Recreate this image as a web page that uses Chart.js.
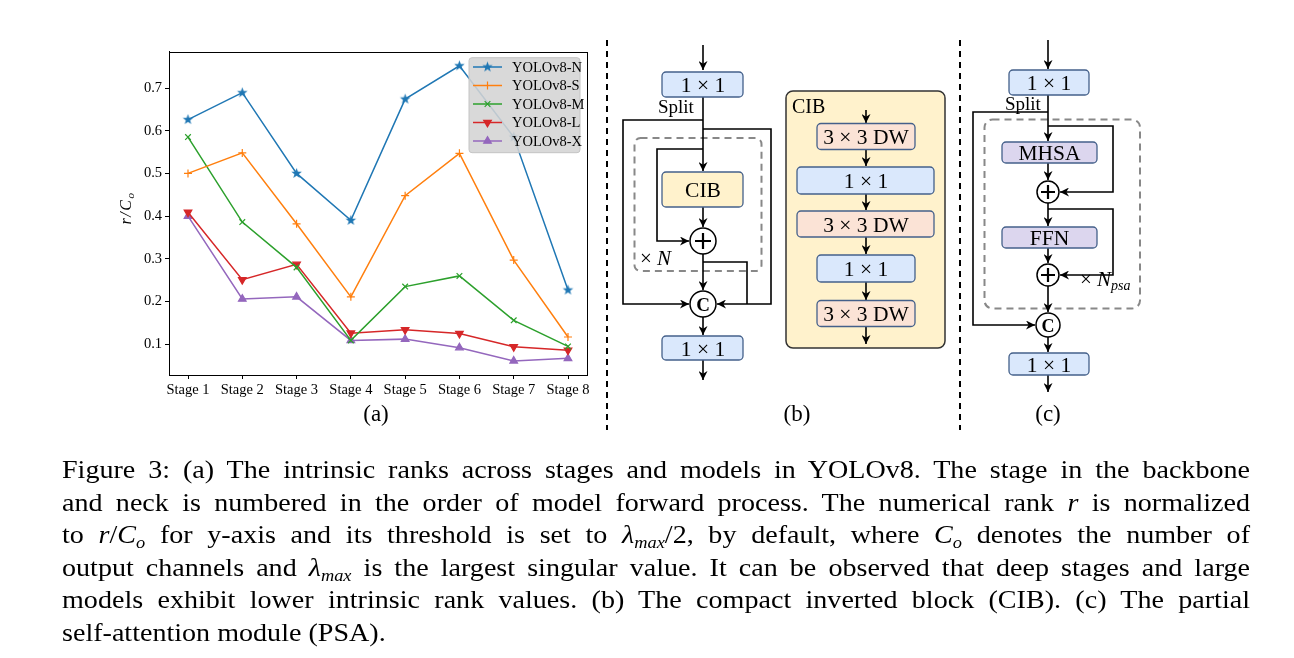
<!DOCTYPE html>
<html>
<head>
<meta charset="utf-8">
<script src="https://cdn.jsdelivr.net/npm/chart.js@4.4.1/dist/chart.umd.min.js"></script>
<style>
  body { margin: 0; background: #fff; width: 1294px; height: 658px; overflow: hidden; position: relative;
         font-family: "Liberation Serif", "Times New Roman", serif; color: #000; }
  #plot { position: absolute; left: 100px; top: 40px; }
  .ylab { position: absolute; left: 126px; top: 208px; transform: translate(-50%, -50%) rotate(-90deg);
          font-size: 16px; letter-spacing: 1.5px; font-style: italic; white-space: nowrap; line-height: 1; }
  .ylab sub { font-size: 11px; vertical-align: -3px; line-height: 0; }
  #diagram { position: absolute; left: 0; top: 0; }
  .cap { position: absolute; left: 62px; width: 1100px; font-size: 26px; line-height: 32.6px; height: 32.6px;
         text-align: justify; text-align-last: justify; white-space: nowrap;
         transform: scaleX(1.08); transform-origin: 0 0; }
  .cap.last { text-align: left; text-align-last: left; }
  .cap sub { font-size: 17px; line-height: 0; vertical-align: -5px; }
</style>
</head>
<body>
<canvas id="plot" width="500" height="370"></canvas>
<div class="ylab">r/C<sub>o</sub></div>

<svg id="diagram" width="1294" height="658" font-family="Liberation Serif, Times New Roman, serif">
  <defs>
    <marker id="ah" viewBox="0 0 10 10" refX="10" refY="5" markerWidth="9" markerHeight="9" markerUnits="userSpaceOnUse" orient="auto">
      <path d="M0,0 L10,5 L0,10 L3,5 z" fill="#000"/>
    </marker>
  </defs>

  <!-- separators -->
  <line x1="607" y1="40" x2="607" y2="430" stroke="#000" stroke-width="2" stroke-dasharray="6,5"/>
  <line x1="960" y1="40" x2="960" y2="430" stroke="#000" stroke-width="2" stroke-dasharray="6,5"/>

  <text x="376" y="421" font-size="23" text-anchor="middle">(a)</text>

  <!-- (b) -->
  <g stroke="#000" stroke-width="1.6" fill="none">
    <rect x="634.5" y="138" width="127" height="133" rx="6" stroke="#888" stroke-width="2" stroke-dasharray="7,5"/>
    <path d="M703 45 V70" marker-end="url(#ah)"/>
    <path d="M703 97 V171" marker-end="url(#ah)"/>
    <path d="M703 120 H623 V304 H689" marker-end="url(#ah)"/>
    <path d="M703 129 H771 V304 H717" marker-end="url(#ah)"/>
    <path d="M703 149 H657 V241 H689" marker-end="url(#ah)"/>
    <path d="M703 207 V227" marker-end="url(#ah)"/>
    <path d="M703 254 V290" marker-end="url(#ah)"/>
    <path d="M703 262 H747 V304"/>
    <path d="M703 317 V335" marker-end="url(#ah)"/>
    <path d="M703 360 V380" marker-end="url(#ah)"/>
  </g>
  <g stroke="#44608a" stroke-width="1.3">
    <rect x="662" y="72" width="81" height="25" rx="4" fill="#dae8fc"/>
    <rect x="662" y="172" width="81" height="35" rx="4" fill="#fff2cc"/>
    <rect x="662" y="336" width="81" height="24" rx="4" fill="#dae8fc"/>
  </g>
  <g stroke="#000" stroke-width="1.5" fill="#fff">
    <circle cx="703" cy="241" r="13"/>
    <circle cx="703" cy="304" r="13"/>
  </g>
  <path d="M695 241 H711 M703 233 V249" stroke="#000" stroke-width="2.2"/>
  <g font-size="21.5" text-anchor="middle">
    <text x="703" y="91.5">1 × 1</text>
    <text x="703" y="197">CIB</text>
    <text x="703" y="310.5" font-weight="bold" font-size="19">C</text>
    <text x="703" y="355.5">1 × 1</text>
  </g>
  <text x="658" y="113" font-size="19">Split</text>
  <text x="640" y="265" font-size="21">× <tspan font-style="italic">N</tspan></text>
  <text x="797" y="421" font-size="23" text-anchor="middle">(b)</text>

  <!-- CIB panel -->
  <rect x="786" y="91" width="159" height="257" rx="7" fill="#fff2cc" stroke="#333" stroke-width="1.5"/>
  <text x="792" y="113" font-size="20">CIB</text>
  <g stroke="#000" stroke-width="1.6" fill="none">
    <path d="M866 110 V123" marker-end="url(#ah)"/>
    <path d="M866 149 V166" marker-end="url(#ah)"/>
    <path d="M866 194 V210" marker-end="url(#ah)"/>
    <path d="M866 237 V254" marker-end="url(#ah)"/>
    <path d="M866 282 V300" marker-end="url(#ah)"/>
    <path d="M866 327 V344" marker-end="url(#ah)"/>
  </g>
  <g stroke="#44608a" stroke-width="1.3">
    <rect x="817" y="123.5" width="98" height="26" rx="4" fill="#fbe3d6"/>
    <rect x="797" y="167" width="137" height="27" rx="4" fill="#dae8fc"/>
    <rect x="797" y="211" width="137" height="26" rx="4" fill="#fbe3d6"/>
    <rect x="817" y="255" width="98" height="27" rx="4" fill="#dae8fc"/>
    <rect x="817" y="300.5" width="98" height="26" rx="4" fill="#fbe3d6"/>
  </g>
  <g font-size="21.5" text-anchor="middle">
    <text x="866" y="143.5">3 × 3 DW</text>
    <text x="866" y="188">1 × 1</text>
    <text x="866" y="231.5">3 × 3 DW</text>
    <text x="866" y="276">1 × 1</text>
    <text x="866" y="321">3 × 3 DW</text>
  </g>

  <!-- (c) -->
  <g stroke="#000" stroke-width="1.6" fill="none">
    <rect x="984.5" y="119.5" width="155.5" height="189" rx="8" stroke="#888" stroke-width="2" stroke-dasharray="7,5"/>
    <path d="M1048 40 V69" marker-end="url(#ah)"/>
    <path d="M1048 95 V141" marker-end="url(#ah)"/>
    <path d="M1048 112 H973 V325 H1035" marker-end="url(#ah)"/>
    <path d="M1048 126 H1113 V192 H1060" marker-end="url(#ah)"/>
    <path d="M1048 163 V180" marker-end="url(#ah)"/>
    <path d="M1048 203 V226" marker-end="url(#ah)"/>
    <path d="M1048 209 H1113 V275 H1060" marker-end="url(#ah)"/>
    <path d="M1048 248 V263" marker-end="url(#ah)"/>
    <path d="M1048 286 V312" marker-end="url(#ah)"/>
    <path d="M1048 337 V352" marker-end="url(#ah)"/>
    <path d="M1048 375 V392" marker-end="url(#ah)"/>
  </g>
  <g stroke="#44608a" stroke-width="1.3">
    <rect x="1009" y="70" width="80" height="25" rx="4" fill="#dae8fc"/>
    <rect x="1002" y="142" width="95" height="21" rx="4" fill="#dcd6ee"/>
    <rect x="1002" y="227" width="95" height="21" rx="4" fill="#dcd6ee"/>
    <rect x="1009" y="353" width="80" height="22" rx="4" fill="#dae8fc"/>
  </g>
  <g stroke="#000" stroke-width="1.5" fill="#fff">
    <circle cx="1048" cy="192" r="11"/>
    <circle cx="1048" cy="275" r="11"/>
    <circle cx="1048" cy="325" r="12"/>
  </g>
  <path d="M1041 192 H1055 M1048 185 V199 M1041 275 H1055 M1048 268 V282" stroke="#000" stroke-width="2.2"/>
  <g font-size="21.5" text-anchor="middle">
    <text x="1049" y="89.5">1 × 1</text>
    <text x="1049.5" y="160">MHSA</text>
    <text x="1049.5" y="245">FFN</text>
    <text x="1048" y="331.5" font-weight="bold" font-size="18">C</text>
    <text x="1049" y="371.5">1 × 1</text>
  </g>
  <text x="1005" y="110" font-size="19">Split</text>
  <text x="1080" y="286" font-size="21">× <tspan font-style="italic">N</tspan><tspan font-style="italic" font-size="14" dy="4">psa</tspan></text>
  <text x="1048" y="421" font-size="23" text-anchor="middle">(c)</text>
</svg>

<div class="cap" style="top:454px">Figure 3: (a) The intrinsic ranks across stages and models in YOLOv8. The stage in the backbone</div>
<div class="cap" style="top:486.6px">and neck is numbered in the order of model forward process. The numerical rank <i>r</i> is normalized</div>
<div class="cap" style="top:519.2px">to <i>r</i>/<i>C<sub>o</sub></i> for y-axis and its threshold is set to <i>λ<sub>max</sub></i>/2, by default, where <i>C<sub>o</sub></i> denotes the number of</div>
<div class="cap" style="top:551.8px">output channels and <i>λ<sub>max</sub></i> is the largest singular value. It can be observed that deep stages and large</div>
<div class="cap" style="top:584.4px">models exhibit lower intrinsic rank values. (b) The compact inverted block (CIB). (c) The partial</div>
<div class="cap last" style="top:617px">self-attention module (PSA).</div>

<script>
// values (r / C_o per stage)
const stages = ['Stage 1', 'Stage 2', 'Stage 3', 'Stage 4', 'Stage 5', 'Stage 6', 'Stage 7', 'Stage 8'];
const models = ['YOLOv8-N', 'YOLOv8-S', 'YOLOv8-M', 'YOLOv8-L', 'YOLOv8-X'];
const rankN = [0.626, 0.689, 0.500, 0.390, 0.674, 0.752, 0.585, 0.227];
const rankS = [0.500, 0.548, 0.382, 0.211, 0.448, 0.547, 0.297, 0.117];
const rankM = [0.585, 0.386, 0.280, 0.109, 0.235, 0.260, 0.156, 0.095];
const rankL = [0.409, 0.251, 0.287, 0.126, 0.134, 0.125, 0.094, 0.086];
const rankX = [0.400, 0.206, 0.211, 0.109, 0.112, 0.092, 0.061, 0.067];
const yTicks = [0.1, 0.2, 0.3, 0.4, 0.5, 0.6, 0.7];

const colors = ['#1f77b4', '#ff7f0e', '#2ca02c', '#d62728', '#9467bd'];

// filled star like matplotlib's '*'
function makeStar(color, r) {
  const c = document.createElement('canvas');
  const s = Math.ceil(r * 2) + 2;
  c.width = c.height = s;
  const g = c.getContext('2d');
  g.fillStyle = color;
  g.beginPath();
  for (let k = 0; k < 10; k++) {
    const rad = k % 2 ? r * 0.42 : r;
    const a = -Math.PI / 2 + k * Math.PI / 5;
    g.lineTo(s / 2 + rad * Math.cos(a), s / 2 + rad * Math.sin(a));
  }
  g.closePath();
  g.fill();
  return c;
}

const markers = [
  { pointStyle: makeStar(colors[0], 5.5), rot: 0, r: 5.5 },
  { pointStyle: 'cross', rot: 0, r: 4 },
  { pointStyle: 'crossRot', rot: 0, r: 4 },
  { pointStyle: 'triangle', rot: 180, r: 4.4 },
  { pointStyle: 'triangle', rot: 0, r: 4.4 }
];

const series = [rankN, rankS, rankM, rankL, rankX];
const datasets = series.map((vals, i) => ({
  label: models[i],
  data: vals.map((v, j) => ({ x: j + 1, y: v })),
  borderColor: colors[i],
  backgroundColor: colors[i],
  pointBackgroundColor: colors[i],
  pointBorderColor: colors[i],
  pointBorderWidth: 1.2,
  borderWidth: 1.5,
  pointStyle: markers[i].pointStyle,
  pointRotation: markers[i].rot,
  pointRadius: markers[i].r,
  tension: 0,
  clip: false
}));

// legend box inside the plot, upper right, drawn over the lines
const legendBox = {
  id: 'legendBox',
  afterDatasetsDraw(chart) {
    const { ctx, chartArea: a } = chart;
    const w = 111, h = 95;
    const x0 = a.right - 7 - w, y0 = a.top + 6;
    ctx.save();
    ctx.beginPath();
    ctx.roundRect(x0, y0, w, h, 3);
    ctx.fillStyle = 'rgba(212,212,212,0.88)';
    ctx.fill();
    ctx.strokeStyle = '#c4c4c4';
    ctx.lineWidth = 1;
    ctx.stroke();
    chart.data.datasets.forEach((ds, i) => {
      const y = y0 + 9.3 + i * 18.5;
      ctx.strokeStyle = ds.borderColor;
      ctx.lineWidth = 1.5;
      ctx.beginPath();
      ctx.moveTo(x0 + 4, y);
      ctx.lineTo(x0 + 33, y);
      ctx.stroke();
      ctx.fillStyle = ds.pointBackgroundColor;
      ctx.strokeStyle = ds.pointBorderColor;
      ctx.lineWidth = 1.2;
      Chart.helpers.drawPoint(ctx, {
        pointStyle: ds.pointStyle, rotation: ds.pointRotation, radius: ds.pointRadius, borderWidth: 1.2
      }, x0 + 18.5, y);
      ctx.fillStyle = '#000';
      ctx.font = '14.5px "Liberation Serif"';
      ctx.textBaseline = 'middle';
      ctx.fillText(ds.label, x0 + 43, y + 1);
    });
    ctx.restore();
  }
};

// full box frame like matplotlib spines
const frame = {
  id: 'frame',
  afterDraw(chart) {
    const { ctx, chartArea: a } = chart;
    ctx.save();
    ctx.strokeStyle = '#000';
    ctx.lineWidth = 1;
    ctx.strokeRect(Math.round(a.left) + 0.5, Math.round(a.top) + 0.5,
                   Math.round(a.right - a.left), Math.round(a.bottom - a.top));
    ctx.restore();
  }
};

const tickFont = { family: 'Liberation Serif', size: 14.5 };

new Chart(document.getElementById('plot'), {
  type: 'line',
  data: { datasets },
  plugins: [legendBox, frame],
  options: {
    responsive: false,
    animation: false,
    devicePixelRatio: 1,
    layout: { padding: { top: 9, right: 13, left: 0, bottom: 0 } },
    plugins: { legend: { display: false }, tooltip: { enabled: false } },
    scales: {
      x: {
        type: 'linear',
        min: 0.65,
        max: 8.35,
        afterBuildTicks: (scale) => { scale.ticks = stages.map((_, i) => ({ value: i + 1 })); },
        afterFit: (scale) => { scale.height = 35; },
        ticks: {
          autoSkip: false, maxRotation: 0, color: '#000', font: tickFont, padding: 2,
          callback: (v) => stages[v - 1]
        },
        grid: { display: true, drawOnChartArea: false, drawTicks: true, tickLength: 4, color: '#000' },
        border: { display: true, color: '#000', width: 1 }
      },
      y: {
        min: 0.028,
        max: 0.785,
        afterBuildTicks: (scale) => { scale.ticks = yTicks.map(v => ({ value: v })); },
        afterFit: (scale) => { scale.width = 69; },
        ticks: { color: '#000', font: tickFont, padding: 3, callback: (v) => v.toFixed(1) },
        grid: { display: true, drawOnChartArea: false, drawTicks: true, tickLength: 4, color: '#000' },
        border: { display: true, color: '#000', width: 1 }
      }
    }
  }
});
</script>
</body>
</html>
